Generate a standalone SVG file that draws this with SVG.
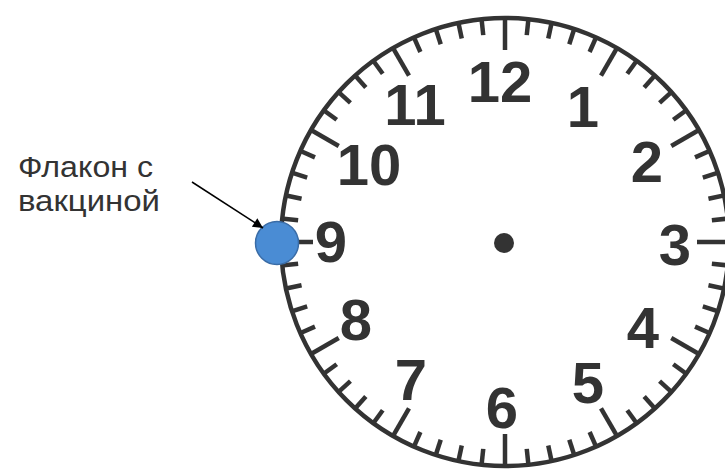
<svg xmlns="http://www.w3.org/2000/svg" xmlns:xlink="http://www.w3.org/1999/xlink" width="725" height="471" viewBox="0 0 725 471">
<style>
.rim{fill:none;stroke:#333;stroke-width:4.5}
.tk{stroke:#333;stroke-width:4.5}
.num{font-family:"Liberation Sans",Arial,sans-serif;font-weight:bold;font-size:58px;fill:#333;text-anchor:middle}
.lbl{font-family:"Liberation Sans",Arial,sans-serif;font-size:30px;fill:#333}
.conn{stroke:#000;stroke-width:1.5;fill:none}
</style>
<defs>
<line id="m" class="tk" x1="505" y1="17" x2="505" y2="34"/>
<line id="h" class="tk" x1="505" y1="17" x2="505" y2="50"/>
<marker id="ah" viewBox="0 0 10 10" refX="10" refY="5" markerWidth="12" markerHeight="10" markerUnits="userSpaceOnUse" orient="auto">
<path d="M0,0 L10,5 L0,10 z" fill="#000"/>
</marker>
</defs>
<rect width="725" height="471" fill="#fff"/>
<g id="clock">
<circle class="rim" cx="505" cy="242" r="224"/>
<use xlink:href="#h" transform="rotate(0 505 242)"/>
<use xlink:href="#m" transform="rotate(6 505 242)"/>
<use xlink:href="#m" transform="rotate(12 505 242)"/>
<use xlink:href="#m" transform="rotate(18 505 242)"/>
<use xlink:href="#m" transform="rotate(24 505 242)"/>
<use xlink:href="#h" transform="rotate(30 505 242)"/>
<use xlink:href="#m" transform="rotate(36 505 242)"/>
<use xlink:href="#m" transform="rotate(42 505 242)"/>
<use xlink:href="#m" transform="rotate(48 505 242)"/>
<use xlink:href="#m" transform="rotate(54 505 242)"/>
<use xlink:href="#h" transform="rotate(60 505 242)"/>
<use xlink:href="#m" transform="rotate(66 505 242)"/>
<use xlink:href="#m" transform="rotate(72 505 242)"/>
<use xlink:href="#m" transform="rotate(78 505 242)"/>
<use xlink:href="#m" transform="rotate(84 505 242)"/>
<use xlink:href="#h" transform="rotate(90 505 242)"/>
<use xlink:href="#m" transform="rotate(96 505 242)"/>
<use xlink:href="#m" transform="rotate(102 505 242)"/>
<use xlink:href="#m" transform="rotate(108 505 242)"/>
<use xlink:href="#m" transform="rotate(114 505 242)"/>
<use xlink:href="#h" transform="rotate(120 505 242)"/>
<use xlink:href="#m" transform="rotate(126 505 242)"/>
<use xlink:href="#m" transform="rotate(132 505 242)"/>
<use xlink:href="#m" transform="rotate(138 505 242)"/>
<use xlink:href="#m" transform="rotate(144 505 242)"/>
<use xlink:href="#h" transform="rotate(150 505 242)"/>
<use xlink:href="#m" transform="rotate(156 505 242)"/>
<use xlink:href="#m" transform="rotate(162 505 242)"/>
<use xlink:href="#m" transform="rotate(168 505 242)"/>
<use xlink:href="#m" transform="rotate(174 505 242)"/>
<use xlink:href="#h" transform="rotate(180 505 242)"/>
<use xlink:href="#m" transform="rotate(186 505 242)"/>
<use xlink:href="#m" transform="rotate(192 505 242)"/>
<use xlink:href="#m" transform="rotate(198 505 242)"/>
<use xlink:href="#m" transform="rotate(204 505 242)"/>
<use xlink:href="#h" transform="rotate(210 505 242)"/>
<use xlink:href="#m" transform="rotate(216 505 242)"/>
<use xlink:href="#m" transform="rotate(222 505 242)"/>
<use xlink:href="#m" transform="rotate(228 505 242)"/>
<use xlink:href="#m" transform="rotate(234 505 242)"/>
<use xlink:href="#h" transform="rotate(240 505 242)"/>
<use xlink:href="#m" transform="rotate(246 505 242)"/>
<use xlink:href="#m" transform="rotate(252 505 242)"/>
<use xlink:href="#m" transform="rotate(258 505 242)"/>
<use xlink:href="#m" transform="rotate(264 505 242)"/>
<use xlink:href="#h" transform="rotate(270 505 242)"/>
<use xlink:href="#m" transform="rotate(276 505 242)"/>
<use xlink:href="#m" transform="rotate(282 505 242)"/>
<use xlink:href="#m" transform="rotate(288 505 242)"/>
<use xlink:href="#m" transform="rotate(294 505 242)"/>
<use xlink:href="#h" transform="rotate(300 505 242)"/>
<use xlink:href="#m" transform="rotate(306 505 242)"/>
<use xlink:href="#m" transform="rotate(312 505 242)"/>
<use xlink:href="#m" transform="rotate(318 505 242)"/>
<use xlink:href="#m" transform="rotate(324 505 242)"/>
<use xlink:href="#h" transform="rotate(330 505 242)"/>
<use xlink:href="#m" transform="rotate(336 505 242)"/>
<use xlink:href="#m" transform="rotate(342 505 242)"/>
<use xlink:href="#m" transform="rotate(348 505 242)"/>
<use xlink:href="#m" transform="rotate(354 505 242)"/>
<circle cx="504" cy="243" r="10" fill="#333"/>
<text class="num" x="500" y="102">12</text>
<text class="num" x="583" y="127">1</text>
<text class="num" x="647" y="182">2</text>
<text class="num" x="675" y="265">3</text>
<text class="num" x="643" y="348">4</text>
<text class="num" x="588" y="403">5</text>
<text class="num" x="502" y="428">6</text>
<text class="num" x="411" y="400">7</text>
<text class="num" x="356" y="340">8</text>
<text class="num" x="331" y="262">9</text>
<text class="num" x="369" y="185">10</text>
<text class="num" x="415" y="125">11</text>
</g>
<g id="vial">
<circle cx="277" cy="243" r="21.5" fill="#4a8cd4" stroke="#3a6ca6" stroke-width="1.5"/>
</g>
<g id="label">
<text class="lbl" x="18" y="177" textLength="135" lengthAdjust="spacingAndGlyphs">Флакон с</text>
<text class="lbl" x="18" y="211" textLength="142" lengthAdjust="spacingAndGlyphs">вакциной</text>
</g>
<g id="connectors">
<line class="conn" x1="192" y1="182" x2="263" y2="228" marker-end="url(#ah)"/>
</g>
</svg>
